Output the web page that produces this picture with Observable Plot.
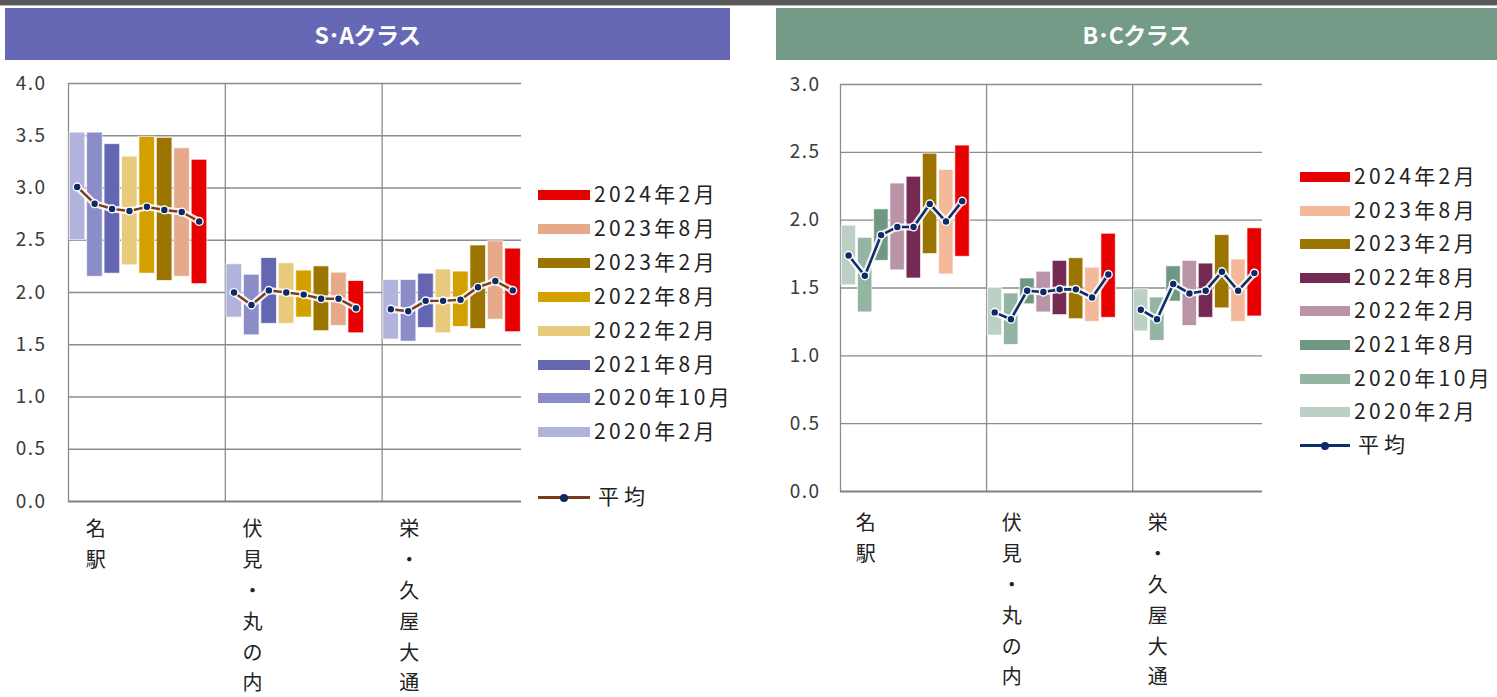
<!DOCTYPE html>
<html>
<head>
<meta charset="utf-8">
<script src="https://cdn.jsdelivr.net/npm/d3@7"></script>
<script src="https://cdn.jsdelivr.net/npm/@observablehq/plot@0.6"></script>
<style>
  html, body { margin: 0; padding: 0; background: #fff; overflow: hidden; }
  #root { position: relative; width: 1497px; height: 697px; font-family: "Noto Sans CJK JP", sans-serif; }
  .strip { position: absolute; left: 0; top: 0; width: 1497px; height: 5px; background: #5a5a5a; }
  .strip2 { position: absolute; left: 0; top: 5px; width: 1497px; height: 1px; background: #bdbdbd; }
  .hdr { position: absolute; top: 8px; height: 52px; color: #fff; font-weight: 700; font-size: 23px;
         display: flex; align-items: center; justify-content: center; letter-spacing: -0.5px; }
  .chart { position: absolute; top: 62px; }
  .chart svg text { letter-spacing: 1.5px; }
  .leg { position: absolute; font-size: 21px; color: #222; letter-spacing: 3.4px; line-height: 1; white-space: nowrap; }
  .sw { position: absolute; height: 10px; }
</style>
</head>
<body>
<div id="root">
  <div class="strip"></div>
  <div class="strip2"></div>
  <div class="hdr" style="left:5px; width:725px; background:#6667b5;">S･Aクラス</div>
  <div class="hdr" style="left:776px; width:721px; background:#739b88;">B･Cクラス</div>
  <div id="left" class="chart" style="left:0px;"></div>
  <div id="right" class="chart" style="left:770px;"></div>
</div>
<script>
// ---------- data ----------
const categories = ["名駅", "伏見・丸の内", "栄・久屋大通"];
const periods = ["2020年2月", "2020年10月", "2021年8月", "2022年2月", "2022年8月", "2023年2月", "2023年8月", "2024年2月"];

// S・A class (low / high / average), one row per area, one value per period
const saLow = [
  [2.50, 2.15, 2.18, 2.26, 2.18, 2.11, 2.15, 2.08],
  [1.76, 1.59, 1.70, 1.70, 1.76, 1.63, 1.68, 1.61],
  [1.55, 1.53, 1.66, 1.61, 1.67, 1.65, 1.74, 1.62]
];
const saHigh = [
  [3.53, 3.53, 3.42, 3.30, 3.49, 3.48, 3.38, 3.27],
  [2.27, 2.17, 2.33, 2.28, 2.21, 2.25, 2.19, 2.11],
  [2.12, 2.12, 2.18, 2.22, 2.20, 2.45, 2.49, 2.42]
];
const saAvg = [
  [3.01, 2.85, 2.80, 2.78, 2.82, 2.79, 2.77, 2.68],
  [2.00, 1.88, 2.02, 2.00, 1.98, 1.94, 1.94, 1.85],
  [1.84, 1.82, 1.92, 1.92, 1.93, 2.05, 2.11, 2.02]
];

// B・C class
const bcLow = [
  [1.52, 1.32, 1.70, 1.63, 1.57, 1.75, 1.60, 1.73],
  [1.15, 1.08, 1.38, 1.32, 1.30, 1.27, 1.25, 1.28],
  [1.18, 1.11, 1.40, 1.22, 1.28, 1.35, 1.25, 1.29]
];
const bcHigh = [
  [1.96, 1.87, 2.08, 2.27, 2.32, 2.49, 2.37, 2.55],
  [1.50, 1.46, 1.57, 1.62, 1.70, 1.72, 1.65, 1.90],
  [1.49, 1.43, 1.66, 1.70, 1.68, 1.89, 1.71, 1.94]
];
const bcAvg = [
  [1.74, 1.59, 1.89, 1.95, 1.95, 2.12, 1.99, 2.14],
  [1.32, 1.27, 1.48, 1.47, 1.49, 1.49, 1.43, 1.60],
  [1.34, 1.27, 1.53, 1.46, 1.48, 1.62, 1.48, 1.61]
];

const saTicks = [0, 0.5, 1, 1.5, 2, 2.5, 3, 3.5, 4];
const bcTicks = [0, 0.5, 1, 1.5, 2, 2.5, 3];

const saColors = ["#b1b3dc", "#8b8dc9", "#6466b2", "#e8ca7c", "#d4a000", "#9c7400", "#e6aa8b", "#e80000"];
const bcColors = ["#bcd0c6", "#94b4a4", "#6f9782", "#b994a7", "#742a52", "#9c7400", "#f4b99b", "#e80000"];

// ---------- helpers ----------
function rows(low, high, avg) {
  const out = [];
  categories.forEach((cat, g) => {
    periods.forEach((p, i) => {
      out.push({cat, g, period: p, slot: g * 9 + i, low: low[g][i], high: high[g][i], avg: avg[g][i]});
    });
  });
  return out;
}

function chart(opts) {
  const data = rows(opts.low, opts.high, opts.avg);
  const ymax = d3.max(opts.ticks);
  const labels = categories.map((c, g) => ({x: g * 9 + 1.6, t: c.split("").join("\n")}));
  return Plot.plot({
    width: opts.width,
    height: 635,
    marginLeft: opts.ml,
    marginRight: opts.mr,
    marginTop: opts.mt,
    marginBottom: opts.mb,
    style: {fontFamily: "'Noto Sans CJK JP', sans-serif", fontSize: "19px", color: "#333", background: "transparent"},
    x: {domain: [0, 26], axis: null},
    y: {domain: [0, ymax], ticks: opts.ticks, tickFormat: d3.format(".1f"), tickSize: 0, tickPadding: opts.tp, label: null},
    color: {domain: periods, range: opts.colors},
    marks: [
      Plot.ruleY(opts.ticks.filter(t => t > 0), {stroke: "#8c8c8c", strokeWidth: 1.3}),
      Plot.ruleX([0, 9, 18], {y1: 0, y2: ymax, stroke: "#8c8c8c", strokeWidth: 1.3}),
      Plot.ruleY([0], {stroke: "#808080", strokeWidth: 2.2}),
      Plot.rect(data, {x1: d => d.slot, x2: d => d.slot + 1, y1: "low", y2: "high", fill: "period",
        insetLeft: 1.2, insetRight: 0.6, stroke: "#ffffff", strokeOpacity: 0.7, strokeWidth: 1}),
      Plot.line(data, {x: d => d.slot + 0.5, y: "avg", z: "cat", stroke: "#ffffff", strokeWidth: 7, strokeOpacity: 0.85}),
      Plot.line(data, {x: d => d.slot + 0.5, y: "avg", z: "cat", stroke: opts.lineColor, strokeWidth: opts.lw}),
      Plot.dot(data, {x: d => d.slot + 0.5, y: "avg", r: 3.9, fill: "#0b2a66", stroke: "#ffffff", strokeWidth: 1.4}),
      Plot.axisY({ticks: opts.ticks, tickFormat: d3.format(".1f"), tickSize: 0, tickPadding: opts.tp, label: null, fontSize: 19, fill: "#3a3a3a"}),
      Plot.text(labels, {x: "x", text: "t", frameAnchor: "bottom", lineAnchor: "top", dy: opts.ldy,
        lineHeight: opts.lh, fontSize: 20, fill: "#222"})
    ]
  });
}

document.getElementById("left").appendChild(chart({
  low: saLow, high: saHigh, avg: saAvg, ticks: saTicks, colors: saColors,
  width: 740, ml: 68, mr: 219, mt: 21, mb: 196, tp: 22, ldy: 13, lh: 1.54,
  lineColor: "#7a3b1b", lw: 2.4
}));
document.getElementById("right").appendChild(chart({
  low: bcLow, high: bcHigh, avg: bcAvg, ticks: bcTicks, colors: bcColors,
  width: 727, ml: 70, mr: 235, mt: 22, mb: 206, tp: 20, ldy: 17, lh: 1.54,
  lineColor: "#0e2d6b", lw: 2.6
}));

// ---------- legends (HTML) ----------
const root = document.getElementById("root");
function legend(colors, x0, textX, swW, y0, step, avgY, lineColor) {
  const order = periods.map((p, i) => i).reverse();
  order.forEach((i, k) => {
    const cy = y0 + k * step;
    const sw = document.createElement("div");
    sw.className = "sw";
    sw.style.left = x0 + "px"; sw.style.top = (cy - 5) + "px"; sw.style.width = swW + "px";
    sw.style.background = colors[i];
    root.appendChild(sw);
    const t = document.createElement("div");
    t.className = "leg";
    t.style.left = textX + "px"; t.style.top = (cy - 12) + "px";
    t.textContent = periods[i];
    root.appendChild(t);
  });
  const ln = document.createElement("div");
  ln.style.cssText = `position:absolute;left:${x0}px;top:${avgY - 1}px;width:${swW}px;height:2.5px;background:${lineColor};`;
  root.appendChild(ln);
  const dt = document.createElement("div");
  dt.style.cssText = `position:absolute;left:${x0 + swW / 2 - 4}px;top:${avgY - 3.5}px;width:8px;height:8px;border-radius:50%;background:#0b2a66;`;
  root.appendChild(dt);
  const t = document.createElement("div");
  t.className = "leg";
  t.style.left = (textX + 4) + "px"; t.style.top = (avgY - 12) + "px";
  t.textContent = "平均";
  t.style.letterSpacing = "5px";
  root.appendChild(t);
}
legend(saColors, 538, 594, 52, 195, 33.9, 497, "#7a3b1b");
legend(bcColors, 1300, 1354, 50, 177, 33.6, 445, "#0e2d6b");
</script>
</body>
</html>
